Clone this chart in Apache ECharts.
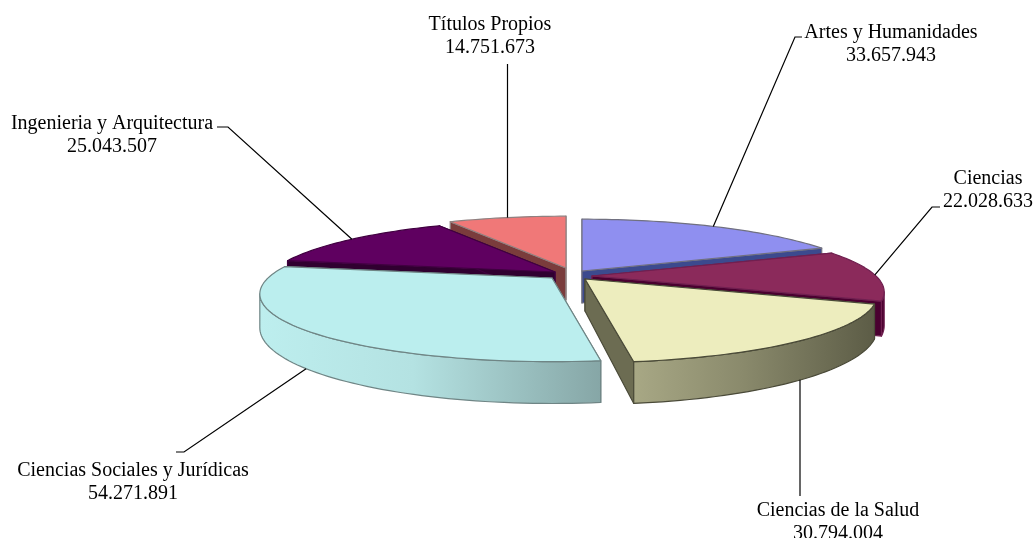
<!DOCTYPE html>
<html>
<head>
<meta charset="utf-8">
<style>html,body{margin:0;padding:0;background:#fff}#c{width:1034px;height:538px}</style>
<script src="https://cdn.jsdelivr.net/npm/echarts@6/dist/echarts.min.js"></script>
</head>
<body>
<div id="c"></div>
<script>
const categories = ['Artes y Humanidades','Ciencias','Ciencias de la Salud','Ciencias Sociales y Jurídicas','Ingenieria y Arquitectura','Títulos Propios'];
const values = [33657943,22028633,30794004,54271891,25043507,14751673];

// Styling / layout, one entry per category
const topColors  = ['#8f8ff0','#8b2a5b','#ededbe','#bbeeee','#5f0060','#f07878'];
const wallColors = ['#3c4a8e','#4a0030','#6c6c52','#8ab0b0','#300030','#7a3c3c'];
const rimFrom    = ['#3c4a8e','#4a0030','#a8a885','#bdeeee','#300030','#7a3c3c'];
const rimMid     = ['#3c4a8e','#4a0030','#8a8a6c','#b4e2e2','#300030','#7a3c3c'];
const rimTo      = ['#3c4a8e','#4a0030','#5c5c46','#86a6a6','#300030','#7a3c3c'];
const strokes    = ['#707080','#702050','#4a4a38','#6f8585','#400040','#908080'];
const paintRank  = [2,4,6,5,3,1];
const apexOffset = [[10,-3],[20,2],[13,5],[-20,4],[-17,-2],[-6,-6]];
const labelPos   = [[891,44],[988,190],[838,522],[133,482],[112,135],[490,36]];
const elbows     = [[[802,37],[795,37]],[[940,207],[932,207]],[[800,496]],[[176,452],[184,452]],[[217,127],[228,127]],[[507.5,64]]];

const centre = [572,274], A = 284, B = 64, P = 0.235, H = 32;
const silhouette = [103.6, 256.4];
const total = values.reduce((a,b)=>a+b,0);
const starts = values.map((_,i)=>values.slice(0,i).reduce((a,b)=>a+b,0)/total*360);

function project(apex, deg){
  const t = deg*Math.PI/180, u = Math.sin(t), v = -Math.cos(t), d = 1-P*v;
  return {x: apex[0]+A*u/d, y: apex[1]+B*v/d, h: H/d};
}
function sample(apex, a, b){
  const pts = [], n = Math.max(4, Math.round((b-a)/1.5));
  for(let k=0;k<=n;k++) pts.push(project(apex, a+(b-a)*k/n));
  return pts;
}
function fmt(n){ return String(n).replace(/\B(?=(\d{3})+$)/g,'.'); }

function renderItem(params, api){
  const i = params.dataIndex, val = api.value(0);
  const a = starts[i], b = a + val/total*360;
  const apex = [centre[0]+apexOffset[i][0], centre[1]+apexOffset[i][1]];
  const arc = sample(apex, a, b);
  const topPts = [apex].concat(arc.map(p=>[p.x,p.y]));
  const z = paintRank[i]*10;
  const face = (p)=>[apex,[p.x,p.y],[p.x,p.y+p.h],[apex[0],apex[1]+H]];
  const poly = (points, fill, z2)=>({
    type:'polygon', z2, silent:true, shape:{points},
    style:{fill, stroke: strokes[i], lineWidth:1.2, lineJoin:'round'}
  });
  const children = [
    poly(face(arc[0]), wallColors[i], z+1),
    poly(face(arc[arc.length-1]), wallColors[i], z+1)
  ];
  const ra = Math.max(a, silhouette[0]), rb = Math.min(b, silhouette[1]);
  if(rb > ra){
    const r = sample(apex, ra, rb);
    const rimPts = r.map(p=>[p.x,p.y]).concat(r.slice().reverse().map(p=>[p.x,p.y+p.h]));
    const rimFill = new echarts.graphic.LinearGradient(0,0,1,0,[
      {offset:0,color:rimFrom[i]},{offset:0.45,color:rimMid[i]},{offset:1,color:rimTo[i]}]);
    children.push(poly(rimPts, rimFill, z+2));
  }
  children.push(poly(topPts, topColors[i], z+3));
  const mid = project(apex,(a+b)/2);
  const front = Math.cos(((a+b)/2)*Math.PI/180) < -0.3;
  const anchor = [mid.x, mid.y + (front ? mid.h : 0)];
  const leader = elbows[i].slice().reverse();
  if(leader.length === 1) anchor[0] = leader[0][0];
  children.push(
    {type:'polyline', z2:200, silent:true, shape:{points:[anchor].concat(leader)},
     style:{fill:null, stroke:'#000', lineWidth:1.2}},
    {type:'text', z2:201, silent:true, x:labelPos[i][0], y:labelPos[i][1],
     style:{text:categories[i]+'\n'+fmt(val), fill:'#000', align:'center', verticalAlign:'middle',
            font:'20px "Liberation Serif"', lineHeight:23}}
  );
  return {type:'group', children};
}

const chart = echarts.init(document.getElementById('c'), null, {renderer:'canvas'});
chart.setOption({
  animation:false,
  backgroundColor:'#fff',
  series:[{type:'custom', coordinateSystem:'none', renderItem, silent:true,
    data: values.map((v,i)=>({name:categories[i], value:[v]}))}]
});
</script>
</body>
</html>
